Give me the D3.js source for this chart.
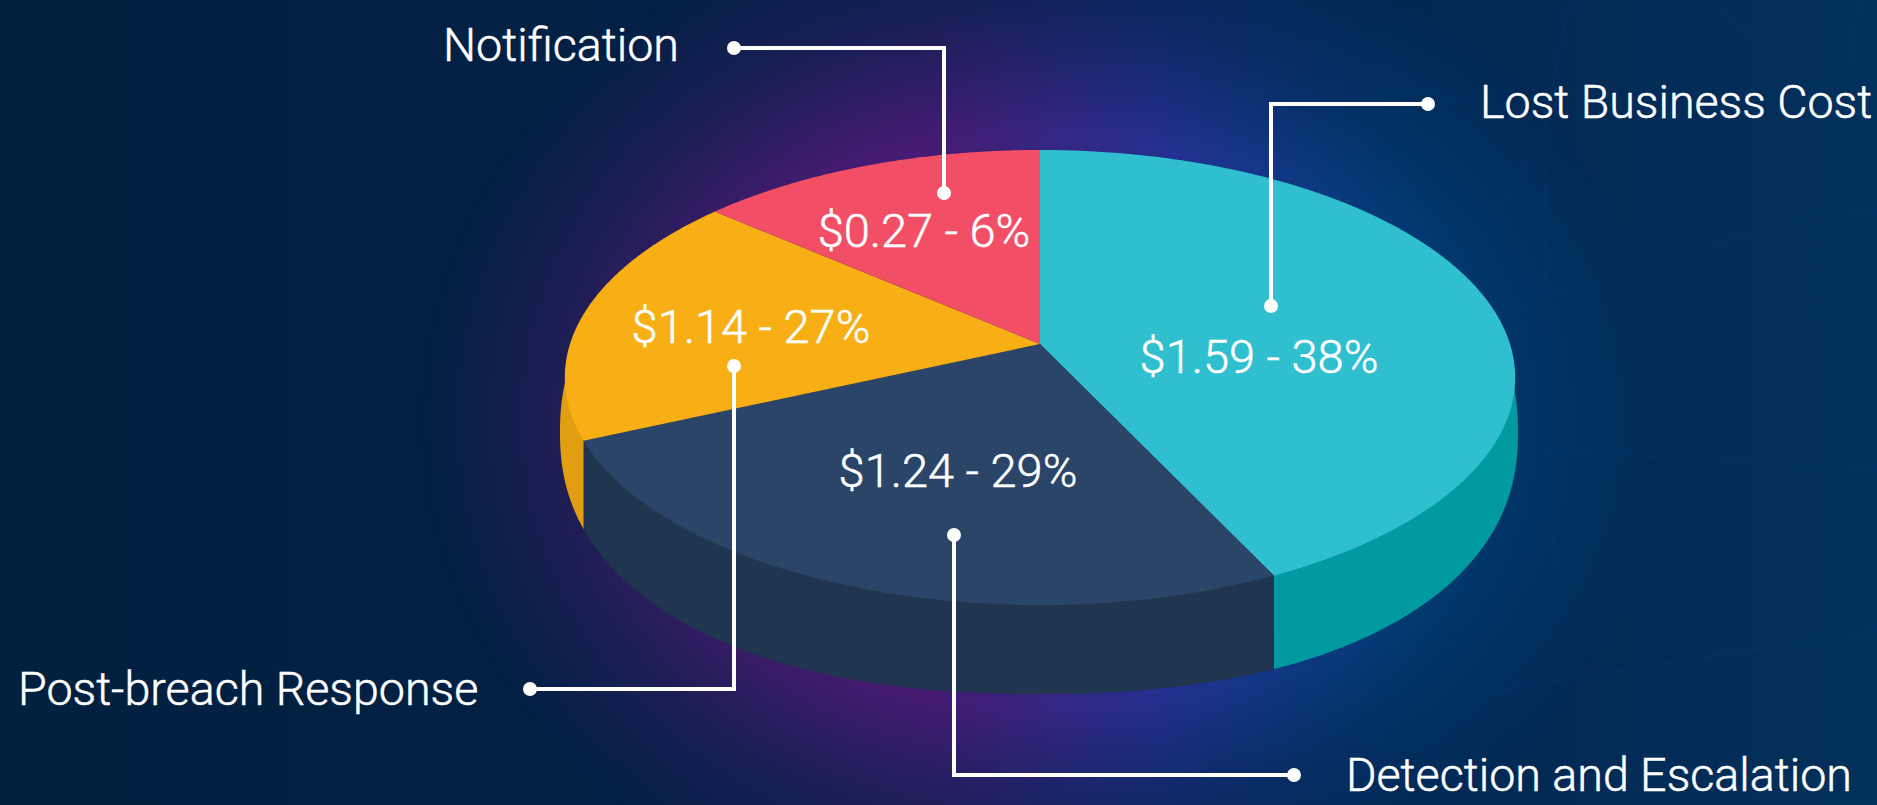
<!DOCTYPE html>
<html>
<head>
<meta charset="utf-8">
<style>
  html, body { margin: 0; padding: 0; background: #02203f; overflow: hidden; }
  text { font-family: Roboto, sans-serif; fill: #fff; font-weight: 300; stroke: #fff; stroke-width: 0.5px; }
</style>
<script src="https://cdn.jsdelivr.net/npm/d3@7"></script>
</head>
<body>
<div id="chart"></div>
<script>
var WIDTH = 1877, HEIGHT = 805;

// chart data
var categories = ["Lost Business Cost", "Detection and Escalation", "Post-breach Response", "Notification"];
var costs = [1.59, 1.24, 1.14, 0.27];
var percents = [38, 29, 27, 6];
// the slices in the picture are not drawn to the printed values, so this is their share as measured on the top face
var drawnShares = [42.9, 25.4, 18.0, 13.7];

var topColors = ["#2fbfcf", "#2a4568", "#f7af15", "#f24f66"];
var sideColors = ["#009aa0", "#20354f", "#e09e10", "#f24f66"];

// text and leader lines, one entry per category
var nameX = [1480, 1346, 18, 443];
var nameY = [118, 791, 705, 61];
var valueX = [1259, 958, 751, 924];
var valueY = [373, 487, 343, 247];
var leaderPaths = [
    [[1428, 104], [1271, 104], [1271, 306]],
    [[1294, 775], [954, 775], [954, 535]],
    [[530, 689], [734, 689], [734, 366]],
    [[734, 48], [944, 48], [944, 193]]
];

// faint network lines in the background, right part of the page
var networkLines = [
    [[1546, 120], [1473, 267]],
    [[1546, 120], [1546, 295]],
    [[1824, 212], [1546, 295]],
    [[1824, 212], [1859, 0]],
    [[1824, 212], [1815, 330]],
    [[1705, 0], [1824, 90]],
    [[1546, 120], [1570, 0]],
    [[1546, 120], [1420, 90]],
    [[1824, 212], [1877, 212]],
    [[1546, 295], [1500, 320]],
    [[1500, 690], [1877, 630]],
    [[1545, 450], [1560, 620]],
    [[1545, 450], [1877, 470]]
];

// top face is a disc seen in perspective, the apex sits above the middle of the ellipse
var apex = { x: 1040, y: 344 }, discX = 470, discY = 222.6, tilt = 0.1473;
// outer edge of the extruded side
var side = { x: 1039, y: 432, rx: 479, ry: 262, power: 2.25 };

function project(angle, radius) {
    var u = Math.sin(angle) * radius, v = -Math.cos(angle) * radius;
    var d = 1 - tilt * v;
    return [apex.x + discX * u / d, apex.y + discY * v / d];
}

var svg = d3.select("#chart")
    .append("svg")
    .attr("width", WIDTH)
    .attr("height", HEIGHT)
    .style("display", "block");

var defs = svg.append("defs");

// page background
var base = defs.append("linearGradient").attr("id", "base");
base.append("stop").attr("offset", "0").attr("stop-color", "#02203f");
base.append("stop").attr("offset", "0.55").attr("stop-color", "#02214a");
base.append("stop").attr("offset", "1").attr("stop-color", "#03305c");

var tint = defs.append("linearGradient").attr("id", "tint");
tint.append("stop").attr("offset", "0.3").attr("stop-color", "#551a72");
tint.append("stop").attr("offset", "0.5").attr("stop-color", "#451c74");
tint.append("stop").attr("offset", "0.62").attr("stop-color", "#243090");
tint.append("stop").attr("offset", "0.76").attr("stop-color", "#004a8c");

var fade = defs.append("radialGradient").attr("id", "fade")
    .attr("gradientUnits", "userSpaceOnUse")
    .attr("cx", 1040).attr("cy", 420).attr("r", 620)
    .attr("gradientTransform", "translate(1040 420) scale(1 0.85) translate(-1040 -420)");
fade.append("stop").attr("offset", "0.55").attr("stop-color", "#fff");
fade.append("stop").attr("offset", "0.78").attr("stop-color", "#555");
fade.append("stop").attr("offset", "1").attr("stop-color", "#000");

defs.append("mask").attr("id", "glow")
    .append("rect").attr("width", WIDTH).attr("height", HEIGHT).attr("fill", "url(#fade)");

svg.append("rect").attr("width", WIDTH).attr("height", HEIGHT).attr("fill", "url(#base)");
svg.append("rect").attr("width", WIDTH).attr("height", HEIGHT)
    .attr("fill", "url(#tint)").attr("mask", "url(#glow)");

var line = d3.line();

svg.append("g")
    .selectAll("path")
    .data(networkLines)
    .enter()
    .append("path")
    .attr("d", function(d) { return line(d); })
    .attr("fill", "none")
    .attr("stroke", "#0a4f9e")
    .attr("stroke-opacity", 0.2);

var slices = d3.pie().sort(null)(drawnShares);

// rim points at the slice borders give the vertical seams of the side
var seamRight = project(slices[1].startAngle, 1)[0];
var seamLeft = project(slices[2].startAngle, 1)[0];
var sideLeft = [seamRight, seamLeft, 0];
var sideRight = [WIDTH, seamRight, seamLeft];

// side first, the top face covers it
var sideShape = d3.range(0, 2 * Math.PI, 0.01).map(function(t) {
    var c = Math.cos(t), s = Math.sin(t);
    return [
        side.x + side.rx * Math.sign(c) * Math.pow(Math.abs(c), 2 / side.power),
        side.y + side.ry * Math.sign(s) * Math.pow(Math.abs(s), 2 / side.power)
    ];
});
defs.append("clipPath").attr("id", "sideClip")
    .append("path").attr("d", line(sideShape) + "Z");

var sideGroup = svg.append("g").attr("clip-path", "url(#sideClip)");
sideGroup.selectAll("rect")
    .data([0, 1, 2])
    .enter()
    .append("rect")
    .attr("x", function(i) { return sideLeft[i]; })
    .attr("width", function(i) { return sideRight[i] - sideLeft[i]; })
    .attr("y", 0)
    .attr("height", HEIGHT)
    .attr("fill", function(i) { return sideColors[i]; });

// top face slices
svg.append("g")
    .selectAll("path")
    .data(slices)
    .enter()
    .append("path")
    .attr("fill", function(d, i) { return topColors[i]; })
    .attr("d", function(d) {
        var pts = [[apex.x, apex.y]];
        d3.range(d.startAngle, d.endAngle, 0.005).forEach(function(a) { pts.push(project(a, 1)); });
        pts.push(project(d.endAngle, 1));
        return line(pts) + "Z";
    });

// leader lines with a dot on both ends
var leaders = svg.append("g");
leaderPaths.forEach(function(pts) {
    leaders.append("path")
        .attr("d", line(pts))
        .attr("fill", "none")
        .attr("stroke", "#fff")
        .attr("stroke-width", 4);
    [pts[0], pts[pts.length - 1]].forEach(function(p) {
        leaders.append("circle").attr("cx", p[0]).attr("cy", p[1]).attr("r", 7).attr("fill", "#fff");
    });
});

// category names
svg.append("g")
    .selectAll("text")
    .data(categories)
    .enter()
    .append("text")
    .attr("x", function(d, i) { return nameX[i]; })
    .attr("y", function(d, i) { return nameY[i]; })
    .style("font-size", "46.6px")
    .text(function(d) { return d; });

// value labels on the slices
var money = d3.format("$.2f");
svg.append("g")
    .selectAll("text")
    .data(costs)
    .enter()
    .append("text")
    .attr("x", function(d, i) { return valueX[i]; })
    .attr("y", function(d, i) { return valueY[i]; })
    .attr("text-anchor", "middle")
    .style("font-size", "47px")
    .text(function(d, i) { return money(d) + " - " + percents[i] + "%"; });
</script>
</body>
</html>
